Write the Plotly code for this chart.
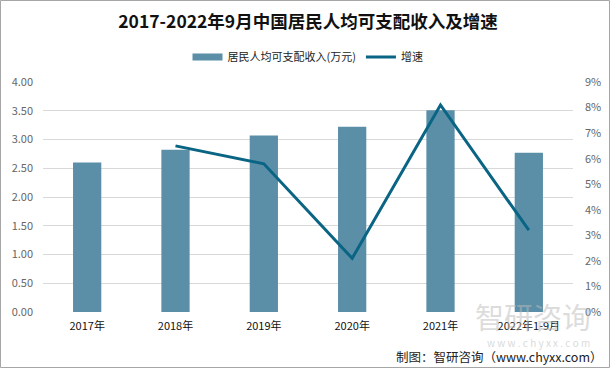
import plotly.graph_objects as go

categories = ["2017年", "2018年", "2019年", "2020年", "2021年", "2022年1-9月"]
income = [2.60, 2.82, 3.07, 3.22, 3.51, 2.77]
growth_cats = ["2018年", "2019年", "2020年", "2021年", "2022年1-9月"]
growth = [6.5, 5.8, 2.1, 8.1, 3.2]
left_ticks = [0, 0.5, 1, 1.5, 2, 2.5, 3, 3.5, 4]
right_ticks = [0, 1, 2, 3, 4, 5, 6, 7, 8, 9]

FONT = "Noto Sans CJK SC"
BAR_COLOR = "#5b8fa8"
LINE_COLOR = "#0a6484"
L, R, T, B = 43, 37, 82, 56
PW, PH = 610 - L - R, 368 - T - B


def px(xp):
    return (xp - L) / PW


def py(yp):
    return (368 - B - yp) / PH


fig = go.Figure()
fig.add_trace(go.Bar(x=categories, y=income, name="居民人均可支配收入(万元)", showlegend=False,
                     marker=dict(color=BAR_COLOR, line=dict(width=0)), width=0.32))
fig.add_trace(go.Scatter(x=[None], y=[None], name="居民人均可支配收入(万元)", mode="lines",
                         line=dict(color=BAR_COLOR, width=7), hoverinfo="skip"))
fig.add_trace(go.Scatter(x=growth_cats, y=growth, name="增速", yaxis="y2", mode="lines",
                         line=dict(color=LINE_COLOR, width=3)))

fig.update_layout(
    width=610, height=368,
    margin=dict(l=L, r=R, t=T, b=B, autoexpand=False),
    paper_bgcolor="white", plot_bgcolor="white",
    font=dict(family=FONT, size=11, color="#222"),
    title=dict(text="<b>2017-2022年9月中国居民人均可支配收入及增速</b>", x=0.5, xanchor="center",
               xref="paper", y=1 - 22 / 368, yref="container", yanchor="middle",
               font=dict(size=17.5, color="#111", family=FONT)),
    legend=dict(orientation="h", x=0.5, xanchor="center", y=py(57), yanchor="middle",
                font=dict(size=11, color="#222"), traceorder="normal", itemwidth=30),
    xaxis=dict(showgrid=False, showline=False, ticks="", tickfont=dict(size=11, color="#111"),
               categoryorder="array", categoryarray=categories, automargin=False,
               ticklabelstandoff=6),
    yaxis=dict(range=[0, 4], tickvals=left_ticks, tickformat=".2f", showgrid=True,
               gridcolor="#d9d9d9", gridwidth=1, zeroline=False, showline=False,
               tickfont=dict(size=11, color="#666"), automargin=False, ticklabelstandoff=9),
    yaxis2=dict(range=[0, 9], tickvals=right_ticks, ticktext=[f"{v}%" for v in right_ticks],
                overlaying="y", side="right", showgrid=False, zeroline=False, showline=False,
                tickfont=dict(size=11, color="#666"), automargin=False, ticklabelstandoff=11),
    bargap=0.68,
    shapes=[dict(type="rect", xref="paper", yref="paper", x0=px(0.5), x1=px(609.5),
                 y0=py(367.5), y1=py(0.5), line=dict(color="#a6a6a6", width=1))],
    annotations=[
        dict(text="智研咨询", xref="paper", yref="paper", x=px(593), y=py(316), xanchor="right",
             yanchor="middle", showarrow=False,
             font=dict(size=29, color="rgba(185,185,185,0.5)", family=FONT)),
        dict(text="w w w . c h y x x . c o m", xref="paper", yref="paper", x=px(592), y=py(342),
             xanchor="right", yanchor="middle", showarrow=False,
             font=dict(size=10, color="rgba(185,185,185,0.55)", family=FONT)),
        dict(text="制图：智研咨询（www.chyxx.com）", xref="paper", yref="paper", x=px(605), y=py(356),
             xanchor="right", yanchor="middle", showarrow=False,
             font=dict(size=12.5, color="#222", family=FONT)),
    ],
)
fig.write_html("out.html", config={"displayModeBar": False},
               post_script="document.body.style.margin='0';document.body.style.overflow='hidden';")
